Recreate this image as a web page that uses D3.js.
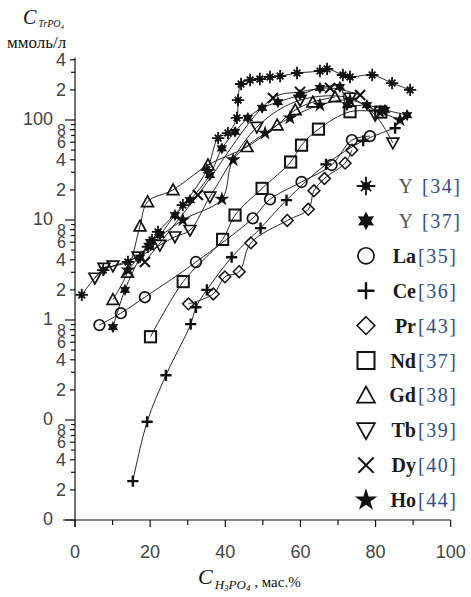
<!DOCTYPE html>
<html>
<head>
<meta charset="utf-8">
<script src="https://cdn.jsdelivr.net/npm/d3@7"></script>
<style>
  body { margin: 0; background: #fff; }
</style>
</head>
<body>
<script>
// each point: [C H3PO4 mass %, C mmol/l]
var y34 = [[1.8,1.78],[7.5,3.16],[14.1,3.8],[19.4,5.4],[20.5,6.3],[22.1,7.6],[28.7,14.1],[35.1,31.6],[38.1,66],[40.7,74],
           [43.1,105],[43.4,158],[44.2,229],[46.6,251],[49.2,257],[51.9,269],[54.6,275],[59.1,295],[65.2,309],[67.1,324],
           [71.3,282],[73.2,269],[79.1,282],[84.4,234],[89.2,200]];
var y37 = [[10.1,0.85],[13.3,2.0],[17.3,4.2],[20.0,6.0],[22.6,7.1],[26.6,11.2],[30.6,15.8],[35.9,28.2],[39.1,52],[42.6,76],
           [46.0,105],[49.8,132],[54.0,151],[59.9,178],[65.2,209],[70.5,214],[72.4,141],[77.7,141],[82.5,126],[88.4,112]];
var la35 = [[6.5,0.89],[12.2,1.17],[18.6,1.69],[32.2,3.8],[47.3,10.4],[51.9,16.1],[60.3,24],[68.3,35.5],[73.7,63],[78.5,69]];
var ce36 = [[15.4,0.0245],[19.2,0.096],[24.2,0.28],[30.8,0.91],[32.2,1.34],[35.1,2.0],[41.7,4.24],[49.4,8.3],[56.3,15.8],
            [66.8,36],[76.7,62],[85.2,83]];
var pr43 = [[30.2,1.45],[36.8,1.82],[39.9,2.7],[43.7,3.04],[46.8,5.9],[56.5,9.9],[62.1,12.8],[63.6,19.6],[66.4,26],[71.9,37],[73.7,50]];
var nd37 = [[20.1,0.68],[28.8,2.42],[39.3,6.4],[42.6,11.2],[49.8,20.7],[57.4,38],[60.3,56],[64.8,81],[73.2,121],[81.4,120]];
var gd38 = [[10.1,1.6],[14.0,3.0],[17.3,8.7],[19.3,15.2],[26.1,20],[35.4,35.5],[45.8,54],[53.8,89],[58.6,126],[63.3,151],[69.2,170]];
var tb39 = [[5.3,2.63],[7.7,3.3],[10.1,3.47],[16.8,4.27],[22.6,5.6],[26.6,6.8],[30.6,7.9],[35.9,17],[48.4,85],[59.9,158],
            [73.2,166],[79.9,112],[84.6,59]];
var dy40 = [[18.6,3.8],[32.7,17.8],[52.7,166],[59.9,191],[67.9,209],[75.9,178]];
var ho44 = [[14.1,3.16],[20.0,5.6],[28.7,10],[39.1,16.2],[42.1,40],[50.6,74],[57.2,105],[65.2,141],[73.2,158],[81.2,120],[86.5,100]];

var seriesData = [y34, y37, la35, ce36, pr43, nd37, gd38, tb39, dy40, ho44];
var seriesMarks = ["asterisk", "star6", "circle", "plus", "diamond", "square", "triUp", "triDown", "cross", "star5"];
var seriesNames = ["Y", "Y", "La", "Ce", "Pr", "Nd", "Gd", "Tb", "Dy", "Ho"];
var seriesRefs = ["[34]", "[37]", "[35]", "[36]", "[43]", "[37]", "[38]", "[39]", "[40]", "[44]"];

var xTickValues = [0, 20, 40, 60, 80, 100];
var xTickLabels = ["0", "20", "40", "60", "80", "100"];
var yDecades = [0.01, 0.1, 1, 10, 100];
var yDecadeLabels = ["0", "0", "1", "10", "100"];
var yMinorSteps = [2, 4, 6, 8];

var width = 471, height = 597;
var yMax = 420;

var svg = d3.select("body").append("svg")
  .attr("width", width)
  .attr("height", height);

var x = d3.scaleLinear().domain([0, 100]).range([75, 450.7]);
var y = d3.scaleLog().domain([0.01, 100]).range([520, 120]);

var ink = "#111";
var tickFont = "'Liberation Sans', Arial, sans-serif";
var serif = "'Liberation Serif', 'Times New Roman', serif";

// ---- axes ----
var axisG = svg.append("g").attr("stroke", ink).attr("stroke-width", 1.2);
axisG.append("line").attr("x1", x(0)).attr("x2", x(0)).attr("y1", y(yMax)).attr("y2", 527);
axisG.append("line").attr("x1", 63).attr("x2", x(100)).attr("y1", y(0.01)).attr("y2", y(0.01));

// x ticks every 10
d3.range(0, 101, 10).forEach(function(v) {
  axisG.append("line")
    .attr("x1", x(v)).attr("x2", x(v))
    .attr("y1", y(0.01)).attr("y2", y(0.01) + (v % 20 === 0 ? 7 : 5));
});
svg.selectAll(".xlab").data(xTickValues).enter().append("text")
  .attr("class", "xlab")
  .attr("x", function(d) { return x(d); })
  .attr("y", 558)
  .attr("text-anchor", "middle")
  .attr("font-family", tickFont)
  .attr("font-size", 18)
  .attr("fill", "#444")
  .text(function(d, i) { return xTickLabels[i]; });

// y ticks on log scale
yDecades.forEach(function(dec, di) {
  for (var k = 1; k <= 9; k++) {
    var v = dec * k;
    if (v > yMax) break;
    var len = k === 1 ? 10 : (yMinorSteps.indexOf(k) >= 0 ? 5 : 4);
    axisG.append("line")
      .attr("x1", x(0) - len).attr("x2", x(0))
      .attr("y1", y(v)).attr("y2", y(v));
    if (k === 1) {
      svg.append("text")
        .attr("x", 53).attr("y", y(v) + 5)
        .attr("text-anchor", "end")
        .attr("font-family", tickFont).attr("font-size", 18).attr("fill", "#444")
        .text(yDecadeLabels[di]);
    } else if (yMinorSteps.indexOf(k) >= 0) {
      svg.append("text")
        .attr("x", 66).attr("y", y(v) + 6)
        .attr("text-anchor", "end")
        .attr("font-family", tickFont).attr("font-size", k === 2 || k === 4 ? 18 : 16).attr("fill", "#444")
        .text(String(k));
    }
  }
});

// axis titles
var yt = svg.append("text").attr("x", 23).attr("y", 24).attr("font-family", serif).attr("fill", ink);
yt.append("tspan").attr("font-style", "italic").attr("font-size", 20).text("C");
yt.append("tspan").attr("font-style", "italic").attr("font-size", 10).attr("dx", 2).attr("dy", 3).text("TrPO");
yt.append("tspan").attr("font-style", "italic").attr("font-size", 7).attr("dy", 2).text("4");
svg.append("text").attr("x", 7).attr("y", 48)
  .attr("font-family", serif).attr("font-size", 17).attr("fill", ink)
  .text("ммоль/л");

var xt = svg.append("text").attr("x", 198).attr("y", 584).attr("font-family", serif).attr("fill", ink);
xt.append("tspan").attr("font-style", "italic").attr("font-size", 22).text("C");
xt.append("tspan").attr("font-style", "italic").attr("font-size", 13).attr("dx", 2).attr("dy", 5).text("H");
xt.append("tspan").attr("font-style", "italic").attr("font-size", 9).attr("dy", 2).text("3");
xt.append("tspan").attr("font-style", "italic").attr("font-size", 13).attr("dy", -2).text("PO");
xt.append("tspan").attr("font-style", "italic").attr("font-size", 9).attr("dy", 2).text("4");
xt.append("tspan").attr("font-size", 15).attr("dy", -4).text(" , мас.%");

// ---- markers ----
function drawMarker(g, type, cx, cy, s) {
  var sw = 1.7;
  if (type === "circle") {
    g.append("circle").attr("cx", cx).attr("cy", cy).attr("r", s * 0.95)
      .attr("fill", "none").attr("stroke", ink).attr("stroke-width", sw);
  } else if (type === "square") {
    g.append("rect").attr("x", cx - s).attr("y", cy - s).attr("width", 2 * s).attr("height", 2 * s)
      .attr("fill", "none").attr("stroke", ink).attr("stroke-width", sw + 0.3);
  } else if (type === "diamond") {
    var d = s * 1.05;
    g.append("path").attr("d", "M" + cx + "," + (cy - d) + "L" + (cx + d) + "," + cy + "L" + cx + "," + (cy + d) + "L" + (cx - d) + "," + cy + "Z")
      .attr("fill", "none").attr("stroke", ink).attr("stroke-width", sw - 0.2);
  } else if (type === "triUp" || type === "triDown") {
    var dir = type === "triUp" ? 1 : -1;
    g.append("path")
      .attr("d", "M" + cx + "," + (cy - dir * s * 1.05) + "L" + (cx + s * 1.05) + "," + (cy + dir * s * 0.85) + "L" + (cx - s * 1.05) + "," + (cy + dir * s * 0.85) + "Z")
      .attr("fill", "none").attr("stroke", ink).attr("stroke-width", sw);
  } else if (type === "plus") {
    g.append("path").attr("d", "M" + (cx - s) + "," + cy + "H" + (cx + s) + "M" + cx + "," + (cy - s) + "V" + (cy + s))
      .attr("stroke", ink).attr("stroke-width", 2.4);
  } else if (type === "cross") {
    var c = s * 0.9;
    g.append("path").attr("d", "M" + (cx - c) + "," + (cy - c) + "L" + (cx + c) + "," + (cy + c) + "M" + (cx - c) + "," + (cy + c) + "L" + (cx + c) + "," + (cy - c))
      .attr("stroke", ink).attr("stroke-width", 2);
  } else if (type === "asterisk") {
    var p = "";
    for (var a = 0; a < 8; a++) {
      var ang = a * Math.PI / 4;
      var r = a % 2 === 0 ? s * 1.1 : s * 0.85;
      p += "M" + cx + "," + cy + "L" + (cx + r * Math.cos(ang)) + "," + (cy + r * Math.sin(ang));
    }
    g.append("path").attr("d", p).attr("stroke", ink).attr("stroke-width", 1.8);
    g.append("circle").attr("cx", cx).attr("cy", cy).attr("r", s * 0.48).attr("fill", ink);
  } else if (type === "star6") {
    var pts = [];
    for (var b = 0; b < 12; b++) {
      var an = -Math.PI / 2 + b * Math.PI / 6;
      var rr = b % 2 === 0 ? s * 1.1 : s * 0.6;
      pts.push([cx + rr * Math.cos(an), cy + rr * Math.sin(an)]);
    }
    g.append("path").attr("d", "M" + pts.join("L") + "Z").attr("fill", ink);
  } else if (type === "star5") {
    g.append("path")
      .attr("transform", "translate(" + cx + "," + cy + ")")
      .attr("d", d3.symbol().type(d3.symbolStar).size(s * s * 2.2)())
      .attr("fill", ink);
  }
}

// ---- series lines and markers ----
var line = d3.line()
  .x(function(d) { return x(d[0]); })
  .y(function(d) { return y(d[1]); })
  .curve(d3.curveCatmullRom.alpha(0.5));

var plot = svg.append("g");
seriesData.forEach(function(data) {
  plot.append("path")
    .attr("d", line(data))
    .attr("fill", "none")
    .attr("stroke", ink)
    .attr("stroke-width", 0.9);
});
seriesData.forEach(function(data, i) {
  data.forEach(function(d) {
    drawMarker(plot, seriesMarks[i], x(d[0]), y(d[1]), 5.6);
  });
});

// ---- legend ----
var legend = svg.append("g");
seriesNames.forEach(function(name, i) {
  var ly = 186 + i * 34.9;
  drawMarker(legend, seriesMarks[i], 366, ly, 8.5);
  var isY = name === "Y";
  legend.append("text")
    .attr("x", isY ? 413 : 416).attr("y", ly + 7)
    .attr("text-anchor", "end")
    .attr("font-family", serif).attr("font-size", 20)
    .attr("font-weight", isY ? "normal" : "bold")
    .attr("fill", isY ? "#555" : "#1a1a1a")
    .text(name);
  legend.append("text")
    .attr("x", isY ? 422 : 418).attr("y", ly + 7)
    .attr("font-family", serif).attr("font-size", 20)
    .attr("letter-spacing", 1.5)
    .attr("fill", "#2f4f8c")
    .text(seriesRefs[i]);
});
</script>
</body>
</html>
